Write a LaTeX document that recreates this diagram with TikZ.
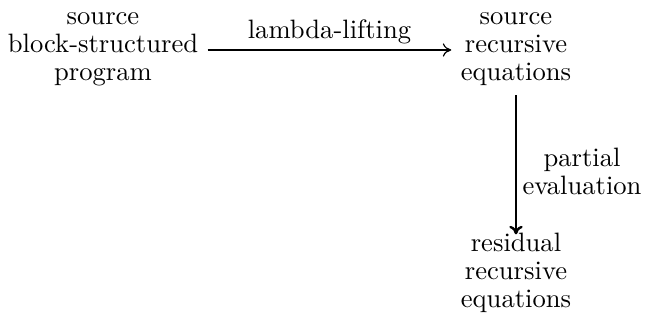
\documentclass[tikz,border=0pt]{standalone}
\usetikzlibrary{arrows.meta}
\begin{document}
\begin{tikzpicture}[x=0.376pt,y=-0.376pt,
  term/.style={align=center,inner sep=3.4pt,font=\fontsize{10pt}{10.5pt}\selectfont},
  lbl/.style={align=center,inner sep=0pt,font=\fontsize{10pt}{10.5pt}\selectfont},
  thinarrow/.style={-{To[length=3.2pt,width=5pt]},line width=0.45pt},
  thickarrow/.style={-{To[length=3.2pt,width=5pt]},line width=0.9pt}]
  \useasboundingbox (0,0) rectangle (645,327);
  \node[term] (lft) at (103,49) {source\\block-structured\\program};
  \node[term] (rt) at (516,49) {source\\recursive\\equations};
  \node[term] (res) at (516,273) {residual\\recursive\\equations};
  \draw[thinarrow] ([yshift=-1*0.376pt]lft.east) -- ([yshift=-1*0.376pt]rt.west)
    node[lbl,midway,above=2pt] (ll) {lambda-lifting};
  \draw[thickarrow,shorten >=-4pt] (rt.south) -- (res.north)
    node[lbl,midway,right=2pt,yshift=-4.6pt] (pe) {partial\\evaluation};
\end{tikzpicture}
\end{document}
